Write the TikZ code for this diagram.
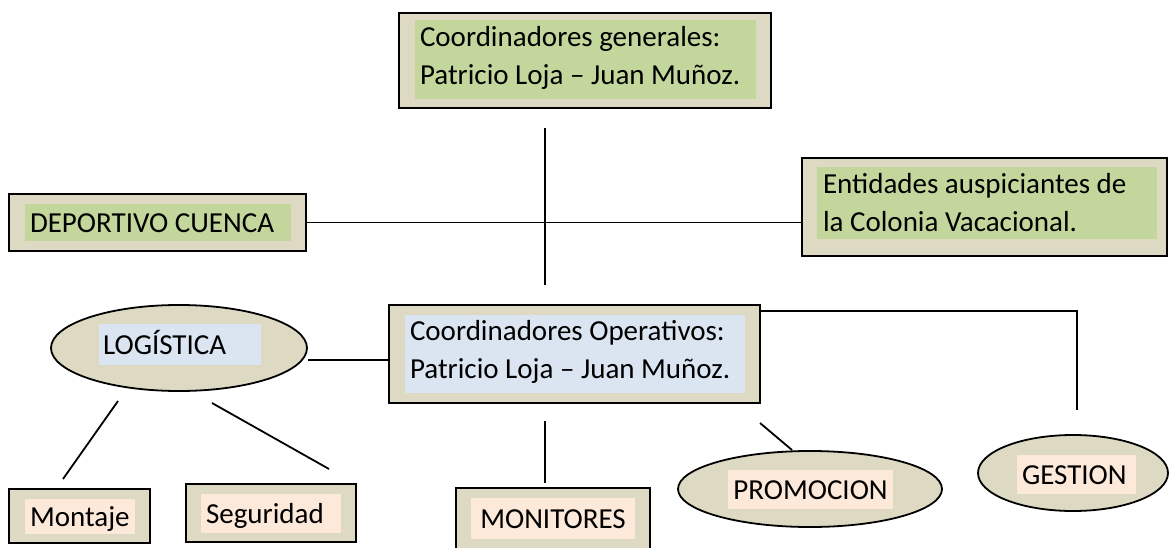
\documentclass[tikz,border=0pt]{standalone}
\usepackage{fontspec}
\setmainfont{Carlito}
\usetikzlibrary{shapes.geometric}
\definecolor{tanbg}{HTML}{DDD9C3}
\definecolor{greenbg}{HTML}{C3D69B}
\definecolor{bluebg}{HTML}{DBE5F1}
\definecolor{peachbg}{HTML}{FDE9D9}
\begin{document}
\begin{tikzpicture}[x=1pt,y=-1pt,
  outerbox/.style={draw=black, line width=2.2pt, fill=tanbg, rectangle, inner sep=0pt},
  oval/.style={draw=black, line width=1.8pt, fill=tanbg, ellipse, inner sep=0pt},
  patch/.style={rectangle, inner sep=0pt},
  lbl/.style={inner sep=0pt, font=\fontsize{29}{38}\selectfont, align=left, anchor=west},
  one/.style={text height=19pt, text depth=0pt},
  link/.style={line width=1.8pt}]
\useasboundingbox (0,0) rectangle (1169,548);
\clip (0,0) rectangle (1169,548);

% top box
\node[outerbox, minimum width=372pt, minimum height=95pt] (gen) at (585,60.5) {};
\node[patch, fill=greenbg, minimum width=341pt, minimum height=79pt] (genf) at (585.5,59.5) {};
\node[lbl] (gent) at ([xshift=5pt,yshift=2pt]genf.west) {Coordinadores generales:\\Patricio Loja – Juan Muñoz.};

% deportivo
\node[outerbox, minimum width=297pt, minimum height=57pt] (dep) at (157.5,222.5) {};
\node[patch, fill=greenbg, minimum width=266pt, minimum height=37pt] (depf) at (158,222.5) {};
\node[lbl, one] (dept) at ([xshift=5pt]depf.west) {DEPORTIVO CUENCA};

% entidades
\node[outerbox, minimum width=365pt, minimum height=98pt] (ent) at (984.5,207) {};
\node[patch, fill=greenbg, minimum width=340pt, minimum height=72pt] (entf) at (987,203) {};
\node[lbl] (entt) at ([xshift=6pt]entf.west) {Entidades auspiciantes de\\la Colonia Vacacional.};

% operativos
\node[outerbox, minimum width=371pt, minimum height=98pt] (ops) at (574.5,354) {};
\node[patch, fill=bluebg, minimum width=340pt, minimum height=78pt] (opsf) at (575,354) {};
\node[lbl] (opst) at ([xshift=5pt,yshift=2pt]opsf.west) {Coordinadores Operativos:\\Patricio Loja – Juan Muñoz.};

% logistica
\node[oval, minimum width=256pt, minimum height=86pt] (log) at (179,348) {};
\node[patch, fill=bluebg, minimum width=162pt, minimum height=41pt] (logf) at (180,344.5) {};
\node[lbl, one] (logt) at ([xshift=4pt]logf.west) {LOGÍSTICA};

% montaje
\node[outerbox, minimum width=141pt, minimum height=54pt] (mon) at (79.5,516) {};
\node[patch, fill=peachbg, minimum width=110pt, minimum height=35pt] (monf) at (80,516.5) {};
\node[lbl, one] (mont) at ([xshift=5pt]monf.west) {Montaje};

% seguridad
\node[outerbox, minimum width=170pt, minimum height=58pt] (seg) at (271,513) {};
\node[patch, fill=peachbg, minimum width=140pt, minimum height=39pt] (segf) at (271,513.5) {};
\node[lbl, one] (segt) at ([xshift=5pt]segf.west) {Seguridad};

% monitores
\node[outerbox, minimum width=194pt, minimum height=72pt] (moni) at (553,524) {};
\node[patch, fill=peachbg, minimum width=164pt, minimum height=41pt] (monif) at (553,518.5) {};
\node[lbl, one, anchor=center] (monit) at (monif.center) {MONITORES};

% promocion
\node[oval, minimum width=264pt, minimum height=76pt] (pro) at (810,489) {};
\node[patch, fill=peachbg, minimum width=165pt, minimum height=39pt] (prof) at (810.5,489.5) {};
\node[lbl, one, anchor=center] (prot) at (prof.center) {PROMOCION};

% gestion
\node[oval, minimum width=190pt, minimum height=76pt] (ges) at (1073,473) {};
\node[patch, fill=peachbg, minimum width=119pt, minimum height=39pt] (gesf) at (1076.5,474.5) {};
\node[lbl, one] (gest) at ([xshift=5pt]gesf.west) {GESTION};

% connector end points
\coordinate (v1a) at (545,128);
\coordinate (v1b) at (545,285);
\coordinate (l3a) at (308,360);
\coordinate (r1) at (1077,311);
\coordinate (r2) at (1077,410);
\coordinate (la1) at (118,401);
\coordinate (la2) at (63,479);
\coordinate (lb1) at (212,403);
\coordinate (lb2) at (329,469);
\coordinate (m1) at (545,421);
\coordinate (m2) at (545,483);
\coordinate (p1) at (760,423);
\coordinate (p2) at (792,450);

\draw[link] (v1a) -- (v1b);
\draw[link] (dep.east) -- (dep.east -| ent.west);
\draw[link] (l3a) -- (l3a -| ops.west);
\draw[link] (r1 -| ops.east) -- (r1) -- (r2);
\draw[link] (la1) -- (la2);
\draw[link] (lb1) -- (lb2);
\draw[link] (m1) -- (m2);
\draw[link] (p1) -- (p2);
\end{tikzpicture}
\end{document}
